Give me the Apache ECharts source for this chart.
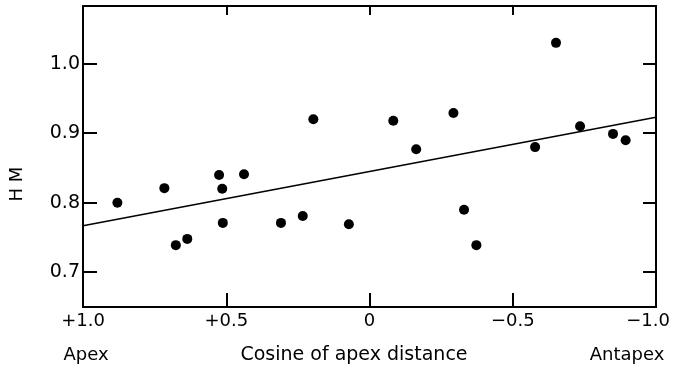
<!DOCTYPE html>
<html lang="en">
<head>
    <meta charset="UTF-8">
    <title>HM vs cosine of apex distance</title>
    <script src="https://cdn.jsdelivr.net/npm/echarts@6/dist/echarts.min.js"></script>
    <style>
        html, body { margin: 0; padding: 0; background: #fff; }
    </style>
</head>
<body>
<div id="chart" style="width:673px;height:370px;"></div>
<script>
    // cosine of apex distance (x) and HM (y)
    var cosApex = [0.88, 0.716, 0.676, 0.636, 0.525, 0.514, 0.512, 0.438, 0.309, 0.233, 0.196,
        0.072, -0.083, -0.163, -0.293, -0.330, -0.373, -0.578, -0.651, -0.735, -0.850, -0.894];
    var hm = [0.800, 0.821, 0.739, 0.748, 0.840, 0.820, 0.771, 0.841, 0.771, 0.781, 0.920,
        0.769, 0.918, 0.877, 0.929, 0.790, 0.739, 0.880, 1.030, 0.910, 0.899, 0.890];
    // fitted line end points
    var fitX = [1.0, -1.0];
    var fitY = [0.767, 0.923];
    var yTicks = [0.7, 0.8, 0.9, 1.0];

    var font = 'DejaVu Sans';
    var points = [];
    for (var i = 0; i < cosApex.length; i++) {
        points.push([cosApex[i], hm[i]]);
    }
    var fit = [];
    for (var j = 0; j < fitX.length; j++) {
        fit.push([fitX[j], fitY[j]]);
    }

    function xLabel(v) {
        if (Math.abs(v) < 1e-9) return '0';
        var s = (v > 0 ? '+' : '\u2212') + Math.abs(v).toFixed(1);
        // last label sits against the page edge, nudge it left
        if (v <= -1) return '{r|' + s + '}';
        return s;
    }

    var lineStyle = {color: '#000', width: 2};
    var myChart = echarts.init(document.getElementById('chart'));
    var option = {
        animation: false,
        grid: {left: 83, right: 17, top: 6, bottom: 63, outerBoundsMode: 'none', containLabel: false},
        xAxis: [{
            type: 'value', inverse: true, min: -1, max: 1, interval: 0.5,
            position: 'bottom',
            axisLine: {show: true, onZero: false, lineStyle: lineStyle},
            axisTick: {show: true, inside: true, length: 14, lineStyle: lineStyle},
            splitLine: {show: false},
            axisLabel: {color: '#000', fontFamily: font, fontSize: 18, margin: 5, formatter: xLabel,
                showMinLabel: true, showMaxLabel: true,
                rich: {r: {color: '#000', fontFamily: font, fontSize: 18, padding: [0, 16, 0, 0]}}}
        }, {
            type: 'value', inverse: true, min: -1, max: 1, interval: 0.5,
            position: 'top',
            axisLine: {show: true, onZero: false, lineStyle: lineStyle},
            axisTick: {show: true, inside: true, length: 9, lineStyle: lineStyle},
            splitLine: {show: false},
            axisLabel: {show: false}
        }],
        yAxis: [{
            type: 'value', min: 0.65, max: 1.083,
            position: 'left',
            axisLine: {show: true, onZero: false, lineStyle: lineStyle},
            axisTick: {show: true, inside: true, length: 14, lineStyle: lineStyle, customValues: yTicks},
            splitLine: {show: false},
            axisLabel: {color: '#000', fontFamily: font, fontSize: 19, margin: 3, customValues: yTicks,
                formatter: function (v) { return v.toFixed(1); }}
        }, {
            type: 'value', min: 0.65, max: 1.083,
            position: 'right',
            axisLine: {show: true, onZero: false, lineStyle: lineStyle},
            axisTick: {show: true, inside: true, length: 13, lineStyle: lineStyle, customValues: yTicks},
            splitLine: {show: false},
            axisLabel: {show: false}
        }],
        graphic: [
            {type: 'text', x: 17, y: 184, rotation: Math.PI / 2,
                style: {text: 'H M', fill: '#000', font: '18px "DejaVu Sans"', align: 'center', verticalAlign: 'middle'}},
            {type: 'text', x: 86, y: 355,
                style: {text: 'Apex', fill: '#000', font: '18px "DejaVu Sans"', align: 'center', verticalAlign: 'middle'}},
            {type: 'text', x: 354, y: 355,
                style: {text: 'Cosine of apex distance', fill: '#000', font: '19px "DejaVu Sans"', align: 'center', verticalAlign: 'middle'}},
            {type: 'text', x: 627, y: 355,
                style: {text: 'Antapex', fill: '#000', font: '18px "DejaVu Sans"', align: 'center', verticalAlign: 'middle'}}
        ],
        series: [{
            type: 'scatter',
            data: points,
            symbol: 'circle',
            symbolSize: 10,
            itemStyle: {color: '#000', opacity: 1}
        }, {
            type: 'line',
            data: fit,
            symbol: 'none',
            lineStyle: {color: '#000', width: 1.6}
        }]
    };
    myChart.setOption(option);
</script>
</body>
</html>
